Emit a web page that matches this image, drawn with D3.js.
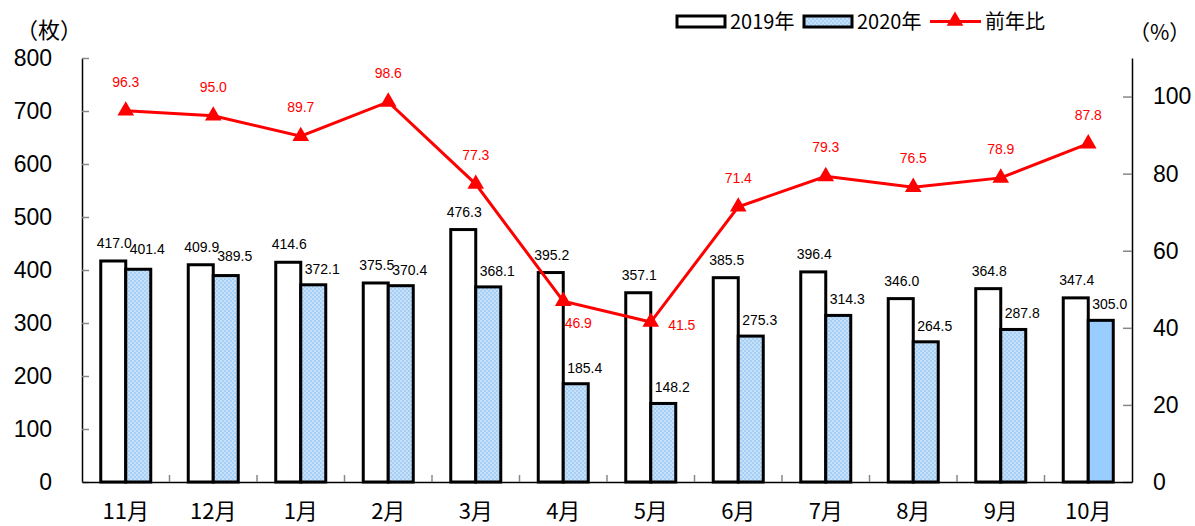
<!DOCTYPE html>
<html><head><meta charset="utf-8">
<script src="https://cdn.jsdelivr.net/npm/d3@7"></script>
<style>
body{margin:0;background:#fff;}
svg{display:block;}
</style></head>
<body>
<svg id="chart" width="1195" height="526"></svg>
<script>
const months = ["11月","12月","1月","2月","3月","4月","5月","6月","7月","8月","9月","10月"];
const v2019 = [417.0,409.9,414.6,375.5,476.3,395.2,357.1,385.5,396.4,346.0,364.8,347.4];
const v2020 = [401.4,389.5,372.1,370.4,368.1,185.4,148.2,275.3,314.3,264.5,287.8,305.0];
const ratio = [96.3,95.0,89.7,98.6,77.3,46.9,41.5,71.4,79.3,76.5,78.9,87.8];
const leftTicks = [0,100,200,300,400,500,600,700,800];
const rightTicks = [0,20,40,60,80,100];
const seriesNames = ["2019年","2020年","前年比"];

const svg = d3.select("#chart");
const L = 82, R = 1132, T = 58, B = 482;
const numFont = "'Liberation Sans', Arial, sans-serif";
const jpFont = "'Noto Sans CJK JP', sans-serif";

const defs = svg.append("defs");
const pat = defs.append("pattern").attr("id","dots").attr("patternUnits","userSpaceOnUse")
  .attr("width",4).attr("height",4);
pat.append("circle").attr("cx",1).attr("cy",1).attr("r",0.7).attr("fill","#ffffff");
pat.append("circle").attr("cx",3).attr("cy",3).attr("r",0.7).attr("fill","#ffffff");
const blue = "#a6cff6";

const x = d3.scaleBand().domain(months).range([L,R]).padding(0);
const yL = d3.scaleLinear().domain([0,800]).range([B,T]);
const yR = d3.scaleLinear().domain([0,110]).range([B,T]);
const bw = 25;

// Left axis
const gL = svg.append("g").attr("transform",`translate(${L},0)`)
  .call(d3.axisLeft(yL).tickValues(leftTicks).tickSizeInner(-7).tickSizeOuter(0).tickPadding(30));
gL.select(".domain").attr("stroke","#000").attr("stroke-width",1.5);
gL.selectAll(".tick line").attr("stroke","#888").attr("stroke-width",1.5);
gL.selectAll(".tick text").attr("font-family",numFont).attr("font-size",23).attr("fill","#000");

// Right axis
const gR = svg.append("g").attr("transform",`translate(${R},0)`)
  .call(d3.axisRight(yR).tickValues(rightTicks).tickSizeInner(-9).tickSizeOuter(0).tickPadding(21));
gR.select(".domain").attr("stroke","#000").attr("stroke-width",1.5);
gR.selectAll(".tick line").attr("stroke","#888").attr("stroke-width",1.5);
gR.selectAll(".tick text").attr("font-family",numFont).attr("font-size",23).attr("fill","#000");

// Bottom axis
const gB = svg.append("g").attr("transform",`translate(0,${B})`)
  .call(d3.axisBottom(x).tickSize(0).tickPadding(21));
gB.select(".domain").attr("stroke","#000").attr("stroke-width",1.5);
gB.selectAll(".tick text").attr("font-family",jpFont).attr("font-size",22).attr("fill","#000");
// category separator ticks
svg.append("g").selectAll("line").data(months.slice(1)).join("line")
  .attr("x1",d=>x(d)).attr("x2",d=>x(d)).attr("y1",B).attr("y2",B-7)
  .attr("stroke","#888").attr("stroke-width",1.5);

const cx = d => x(d) + x.bandwidth()/2;

// bars
const bars = svg.append("g");
bars.selectAll("rect.b19").data(months).join("rect").attr("class","b19")
  .attr("x",d=>cx(d)-bw).attr("width",bw)
  .attr("y",(d,i)=>yL(v2019[i])).attr("height",(d,i)=>B-yL(v2019[i]))
  .attr("fill","#fff").attr("stroke","#000").attr("stroke-width",3);
// 2020 base fill
bars.selectAll("rect.b20").data(months).join("rect").attr("class","b20")
  .attr("x",d=>cx(d)).attr("width",bw)
  .attr("y",(d,i)=>yL(v2020[i])).attr("height",(d,i)=>B-yL(v2020[i]))
  .attr("fill",(d,i)=> i===months.length-1 ? "#99ccff" : blue);
// dot overlay (not on last bar)
bars.selectAll("rect.b20d").data(months.slice(0,-1)).join("rect").attr("class","b20d")
  .attr("x",d=>cx(d)).attr("width",bw)
  .attr("y",(d,i)=>yL(v2020[i])).attr("height",(d,i)=>B-yL(v2020[i]))
  .attr("fill","url(#dots)");
bars.selectAll("rect.b20s").data(months).join("rect").attr("class","b20s")
  .attr("x",d=>cx(d)).attr("width",bw)
  .attr("y",(d,i)=>yL(v2020[i])).attr("height",(d,i)=>B-yL(v2020[i]))
  .attr("fill","none").attr("stroke","#000").attr("stroke-width",3);

// bar labels
const lab = svg.append("g").attr("font-family",numFont).attr("font-size",14).attr("fill","#000");
lab.selectAll("text.l19").data(months).join("text").attr("class","l19")
  .attr("x",d=>cx(d)-bw/2+1).attr("y",(d,i)=>yL(v2019[i])-13)
  .attr("text-anchor","middle").text((d,i)=>v2019[i].toFixed(1));
lab.selectAll("text.l20").data(months).join("text").attr("class","l20")
  .attr("x",d=>cx(d)+bw/2+9).attr("y",(d,i)=>yL(v2020[i])-(i<2?15:11))
  .attr("text-anchor","middle").text((d,i)=>v2020[i].toFixed(1));

// line
const line = d3.line().x((d,i)=>cx(months[i])).y(d=>yR(d));
svg.append("path").datum(ratio).attr("d",line).attr("fill","none")
  .attr("stroke","#ff0000").attr("stroke-width",3);
const tri = d3.symbol().type(d3.symbolTriangle).size(120);
svg.append("g").selectAll("path").data(ratio).join("path")
  .attr("d",tri).attr("fill","#ff0000")
  .attr("transform",(d,i)=>`translate(${cx(months[i])},${yR(d)})`);
svg.append("g").attr("font-family",numFont).attr("font-size",14).attr("fill","#ff0000")
  .selectAll("text").data(ratio).join("text")
  .attr("text-anchor","middle")
  .attr("x",(d,i)=> cx(months[i]) + (i===5?15:(i===6?31:0)))
  .attr("y",(d,i)=> yR(d) + (i===5?27:(i===6?8:-24)))
  .text(d=>d.toFixed(1));

// axis titles
svg.append("text").attr("x",16).attr("y",38).attr("font-family",jpFont).attr("font-size",22)
  .attr("fill","#000").text("（枚）");
svg.append("text").attr("x",1129).attr("y",40).attr("font-family",jpFont).attr("font-size",21)
  .attr("fill","#000").text("（%）");

// legend
const lg = svg.append("g").attr("font-family",jpFont).attr("font-size",20).attr("fill","#000");
lg.append("rect").attr("x",677).attr("y",16).attr("width",48).attr("height",11)
  .attr("fill","#fff").attr("stroke","#000").attr("stroke-width",3);
lg.append("text").attr("x",730).attr("y",29).text(seriesNames[0]);
lg.append("rect").attr("x",804).attr("y",16).attr("width",48).attr("height",11)
  .attr("fill",blue);
lg.append("rect").attr("x",804).attr("y",16).attr("width",48).attr("height",11)
  .attr("fill","url(#dots)").attr("stroke","#000").attr("stroke-width",3);
lg.append("text").attr("x",857).attr("y",29).text(seriesNames[1]);
lg.append("line").attr("x1",930).attr("x2",981).attr("y1",21.5).attr("y2",21.5)
  .attr("stroke","#ff0000").attr("stroke-width",3);
lg.append("path").attr("d",tri).attr("fill","#ff0000").attr("transform","translate(955,21)");
lg.append("text").attr("x",985).attr("y",29).text(seriesNames[2]);
</script>
</body></html>
